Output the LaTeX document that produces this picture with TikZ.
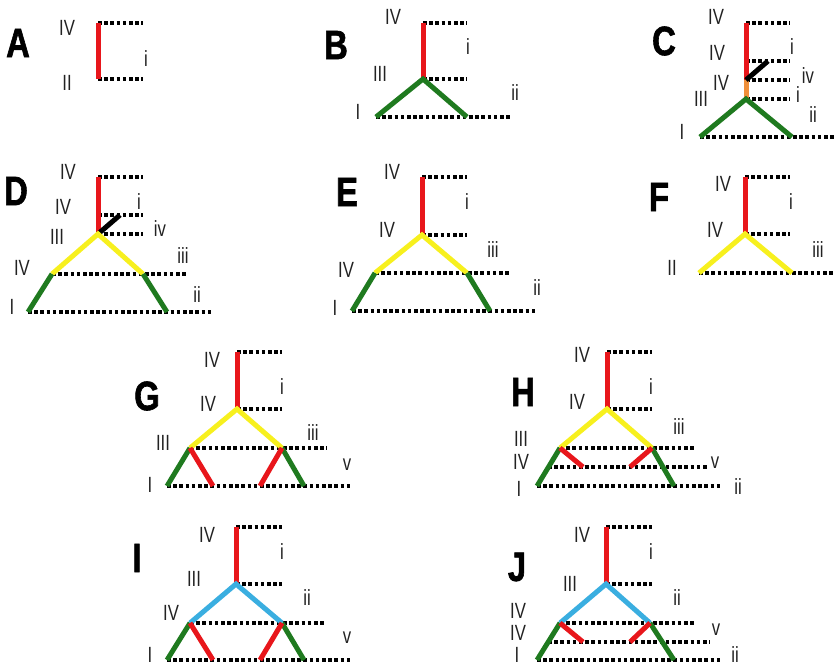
\documentclass[tikz,border=0pt]{standalone}
\usepackage{fontspec}
\setmainfont{Liberation Sans}
\newfontfamily\labfont[FakeStretch=0.76]{Liberation Sans}
\newfontfamily\panfont[FakeStretch=0.8,FakeBold=1.5]{Liberation Sans Bold}
\definecolor{cred}{HTML}{E8161B}
\definecolor{cgreen}{HTML}{1F7A1F}
\definecolor{cyel}{HTML}{F7F01E}
\definecolor{cblue}{HTML}{3AAEE0}
\definecolor{corange}{HTML}{F0903A}
\definecolor{ctext}{HTML}{222222}
\tikzset{
  lab/.style={font=\labfont\fontsize{22}{22}\selectfont, inner sep=0pt, text=ctext},
  pan/.style={font=\panfont\fontsize{41}{41}\selectfont, inner sep=0pt},
  br/.style={line width=5pt, line cap=butt},
  dl/.style={line width=3.6pt, dash pattern=on 3.6pt off 2.6pt},
}
\begin{document}
\begin{tikzpicture}[x=1pt,y=-1pt]
\useasboundingbox (0,0) rectangle (834,667);
% ---------------- A
\node[pan] (pA) at (18,43) {A};
\coordinate (At) at (98,23); \coordinate (Ab) at (98,79);
\coordinate (Ate) at (143,23); \coordinate (Abe) at (143,79);
\draw[dl] (At)--(Ate); \draw[dl] (Ab)--(Abe);
\draw[br,cred] (At)--(Ab);
\node[lab] (A1) at (67,28) {IV};
\node[lab] (A2) at (67,83) {II};
\node[lab] (A3) at (146,59) {i};
% ---------------- B
\node[pan] (pB) at (336,45) {B};
\coordinate (Bt) at (423,23); \coordinate (Bm) at (423,79);
\coordinate (Bl) at (376,117); \coordinate (Br) at (467,117);
\coordinate (Bte) at (467,23); \coordinate (Bme) at (467,79); \coordinate (Bbe) at (512,117);
\draw[dl] (Bt)--(Bte); \draw[dl] (Bm)--(Bme); \draw[dl] (Bl)--(Bbe);
\draw[br,cred] (Bt)--(Bm);
\draw[br,cgreen] (Bl)--(Bm)--(Br);
\node[lab] (B1) at (393,17) {IV};
\node[lab] (B2) at (468,47) {i};
\node[lab] (B3) at (380,74) {III};
\node[lab] (B4) at (515,93) {ii};
\node[lab] (B5) at (358,112) {I};
% ---------------- C
\node[pan] (pC) at (664,41) {C};
\coordinate (Ct) at (746,23); \coordinate (Cu) at (746,61);
\coordinate (Cm) at (746,80); \coordinate (Cn) at (746,99);
\coordinate (Cl) at (700,137); \coordinate (Cr) at (792,137);
\coordinate (Ck) at (768,61);
\coordinate (Cte) at (790,23); \coordinate (Cue) at (790,61);
\coordinate (Cme) at (790,80); \coordinate (Cne) at (790,99);
\coordinate (Cbe) at (834,137);
\draw[dl] (Ct)--(Cte); \draw[dl] (Cu)--(Cue); \draw[dl] (Cm)--(Cme);
\draw[dl] (Cn)--(Cne); \draw[dl] (Cl)--(Cbe);
\draw[br,cred] (Ct)--(Cm);
\draw[br,corange] (Cm)--(Cn);
\draw[br,black] (Cm)--(Ck);
\draw[br,cgreen] (Cl)--(Cn)--(Cr);
\node[lab] (C1) at (716,17) {IV};
\node[lab] (C2) at (717,53) {IV};
\node[lab] (C3) at (721,83) {IV};
\node[lab] (C4) at (701,99) {III};
\node[lab] (C5) at (682,132) {I};
\node[lab] (C6) at (792,47) {i};
\node[lab] (C7) at (808,76) {iv};
\node[lab] (C8) at (798,95) {i};
\node[lab] (C9) at (813,115) {ii};
% ---------------- D
\node[pan] (pD) at (16,191) {D};
\coordinate (Dt) at (98,177); \coordinate (Du) at (98,215); \coordinate (Dm) at (98,234);
\coordinate (Dk) at (120,215);
\coordinate (Dl) at (52,274); \coordinate (Dr) at (143,274);
\coordinate (Dll) at (28,312); \coordinate (Drr) at (167,312);
\coordinate (Dte) at (143,177); \coordinate (Due) at (143,215); \coordinate (Dme) at (143,234);
\coordinate (Dle) at (188,274); \coordinate (Dbe) at (213,312);
\draw[dl] (Dt)--(Dte); \draw[dl] (Du)--(Due); \draw[dl] (Dm)--(Dme);
\draw[dl] (Dl)--(Dle); \draw[dl] (Dll)--(Dbe);
\draw[br,cred] (Dt)--(Dm);
\draw[br,black] (Dm)--(Dk);
\draw[br,cyel] (Dl)--(Dm)--(Dr);
\draw[br,cgreen] (Dl)--(Dll); \draw[br,cgreen] (Dr)--(Drr);
\node[lab] (D1) at (68,172) {IV};
\node[lab] (D2) at (63,207) {IV};
\node[lab] (D3) at (57,237) {III};
\node[lab] (D4) at (139,202) {i};
\node[lab] (D5) at (160,229) {iv};
\node[lab] (D6) at (183,256) {iii};
\node[lab] (D7) at (22,268) {IV};
\node[lab] (D8) at (197,295) {ii};
\node[lab] (D9) at (12,307) {I};
% ---------------- E
\node[pan] (pE) at (347,192) {E};
\coordinate (Et) at (422,177); \coordinate (Em) at (422,235);
\coordinate (El) at (375,273); \coordinate (Er) at (467,273);
\coordinate (Ell) at (352,311); \coordinate (Err) at (490,311);
\coordinate (Ete) at (467,177); \coordinate (Eme) at (467,235);
\coordinate (Ele) at (511,273); \coordinate (Ebe) at (537,311);
\draw[dl] (Et)--(Ete); \draw[dl] (Em)--(Eme); \draw[dl] (El)--(Ele); \draw[dl] (Ell)--(Ebe);
\draw[br,cred] (Et)--(Em);
\draw[br,cyel] (El)--(Em)--(Er);
\draw[br,cgreen] (El)--(Ell); \draw[br,cgreen] (Er)--(Err);
\node[lab] (E1) at (392,172) {IV};
\node[lab] (E2) at (467,202) {i};
\node[lab] (E3) at (387,230) {IV};
\node[lab] (E4) at (493,250) {iii};
\node[lab] (E5) at (346,270) {IV};
\node[lab] (E6) at (537,288) {ii};
\node[lab] (E7) at (335,308) {I};
% ---------------- F
\node[pan] (pF) at (659,197) {F};
\coordinate (Ft) at (745,177); \coordinate (Fm) at (745,234);
\coordinate (Fl) at (699,273); \coordinate (Fr) at (792,273);
\coordinate (Fte) at (790,177); \coordinate (Fme) at (790,234); \coordinate (Fbe) at (834,273);
\draw[dl] (Ft)--(Fte); \draw[dl] (Fm)--(Fme); \draw[dl] (Fl)--(Fbe);
\draw[br,cred] (Ft)--(Fm);
\draw[br,cyel] (Fl)--(Fm)--(Fr);
\node[lab] (F1) at (723,184) {IV};
\node[lab] (F2) at (791,202) {i};
\node[lab] (F3) at (715,230) {IV};
\node[lab] (F4) at (818,250) {iii};
\node[lab] (F5) at (672,268) {II};
% ---------------- G
\node[pan] (pG) at (147,396) {G};
\coordinate (Gt) at (237,352); \coordinate (Gm) at (237,409);
\coordinate (Gl) at (190,448); \coordinate (Gr) at (282,448);
\coordinate (Gll) at (167,486); \coordinate (Glr) at (213,486);
\coordinate (Grl) at (260,486); \coordinate (Grr) at (304,486);
\coordinate (Gte) at (282,352); \coordinate (Gme) at (282,409);
\coordinate (Gle) at (327,448); \coordinate (Gbe) at (352,486);
\draw[dl] (Gt)--(Gte); \draw[dl] (Gm)--(Gme); \draw[dl] (Gl)--(Gle); \draw[dl] (Gll)--(Gbe);
\draw[br,cred] (Gt)--(Gm);
\draw[br,cyel] (Gl)--(Gm)--(Gr);
\draw[br,cgreen] (Gl)--(Gll); \draw[br,cgreen] (Gr)--(Grr);
\draw[br,cred] (Gl)--(Glr); \draw[br,cred] (Gr)--(Grl);
\node[lab] (G1) at (212,360) {IV};
\node[lab] (G2) at (282,387) {i};
\node[lab] (G3) at (208,404) {IV};
\node[lab] (G4) at (163,443) {III};
\node[lab] (G5) at (313,433) {iii};
\node[lab] (G6) at (347,465) {v};
\node[lab] (G7) at (150,485) {I};
% ---------------- H
\node[pan] (pH) at (523,392) {H};
\coordinate (Ht) at (607,352); \coordinate (Hm) at (607,409);
\coordinate (Hl) at (560,448); \coordinate (Hr) at (652,448);
\coordinate (Hll) at (537,486); \coordinate (Hlr) at (583,467);
\coordinate (Hrl) at (630,467); \coordinate (Hrr) at (674,486);
\coordinate (Hte) at (652,352); \coordinate (Hme) at (652,409);
\coordinate (Hle) at (696,448); \coordinate (Hcs) at (548,467); \coordinate (Hce) at (708,467);
\coordinate (Hbe) at (722,486);
\draw[dl] (Ht)--(Hte); \draw[dl] (Hm)--(Hme); \draw[dl] (Hl)--(Hle);
\draw[dl] (Hcs)--(Hce); \draw[dl] (Hll)--(Hbe);
\draw[br,cred] (Ht)--(Hm);
\draw[br,cyel] (Hl)--(Hm)--(Hr);
\draw[br,cgreen] (Hl)--(Hll); \draw[br,cgreen] (Hr)--(Hrr);
\draw[br,cred] (Hl)--(Hlr); \draw[br,cred] (Hr)--(Hrl);
\node[lab] (H1) at (582,355) {IV};
\node[lab] (H2) at (651,387) {i};
\node[lab] (H3) at (577,402) {IV};
\node[lab] (H4) at (679,427) {iii};
\node[lab] (H5) at (521,439) {III};
\node[lab] (H6) at (521,462) {IV};
\node[lab] (H7) at (715,463) {v};
\node[lab] (H8) at (519,489) {I};
\node[lab] (H9) at (738,487) {ii};
% ---------------- I
\node[pan] (pI) at (137,558) {I};
\coordinate (It) at (236,527); \coordinate (Im) at (236,584);
\coordinate (Il) at (190,623); \coordinate (Ir) at (282,623);
\coordinate (Ill) at (167,660); \coordinate (Ilr) at (213,660);
\coordinate (Irl) at (260,660); \coordinate (Irr) at (304,660);
\coordinate (Ite) at (282,527); \coordinate (Ime) at (282,584);
\coordinate (Ile) at (326,623); \coordinate (Ibe) at (352,660);
\draw[dl] (It)--(Ite); \draw[dl] (Im)--(Ime); \draw[dl] (Il)--(Ile); \draw[dl] (Ill)--(Ibe);
\draw[br,cred] (It)--(Im);
\draw[br,cblue] (Il)--(Im)--(Ir);
\draw[br,cgreen] (Il)--(Ill); \draw[br,cgreen] (Ir)--(Irr);
\draw[br,cred] (Il)--(Ilr); \draw[br,cred] (Ir)--(Irl);
\node[lab] (I1) at (207,535) {IV};
\node[lab] (I2) at (282,552) {i};
\node[lab] (I3) at (194,579) {III};
\node[lab] (I4) at (307,598) {ii};
\node[lab] (I5) at (171,613) {IV};
\node[lab] (I6) at (347,638) {v};
\node[lab] (I7) at (150,655) {I};
% ---------------- J
\node[pan] (pJ) at (517,567) {J};
\coordinate (Jt) at (606,527); \coordinate (Jm) at (606,584);
\coordinate (Jl) at (560,623); \coordinate (Jr) at (650,623);
\coordinate (Jll) at (537,660); \coordinate (Jlr) at (583,642);
\coordinate (Jrl) at (630,642); \coordinate (Jrr) at (674,660);
\coordinate (Jte) at (652,527); \coordinate (Jme) at (652,584);
\coordinate (Jle) at (695,623); \coordinate (Jcs) at (548,642); \coordinate (Jce) at (710,642);
\coordinate (Jbe) at (722,660);
\draw[dl] (Jt)--(Jte); \draw[dl] (Jm)--(Jme); \draw[dl] (Jl)--(Jle);
\draw[dl] (Jcs)--(Jce); \draw[dl] (Jll)--(Jbe);
\draw[br,cred] (Jt)--(Jm);
\draw[br,cblue] (Jl)--(Jm)--(Jr);
\draw[br,cgreen] (Jl)--(Jll); \draw[br,cgreen] (Jr)--(Jrr);
\draw[br,cred] (Jl)--(Jlr); \draw[br,cred] (Jr)--(Jrl);
\node[lab] (J1) at (582,535) {IV};
\node[lab] (J2) at (651,552) {i};
\node[lab] (J3) at (570,584) {III};
\node[lab] (J4) at (677,598) {ii};
\node[lab] (J5) at (518,611) {IV};
\node[lab] (J6) at (518,633) {IV};
\node[lab] (J7) at (716,630) {v};
\node[lab] (J8) at (517,655) {I};
\node[lab] (J9) at (735,655) {ii};
\end{tikzpicture}
\end{document}
